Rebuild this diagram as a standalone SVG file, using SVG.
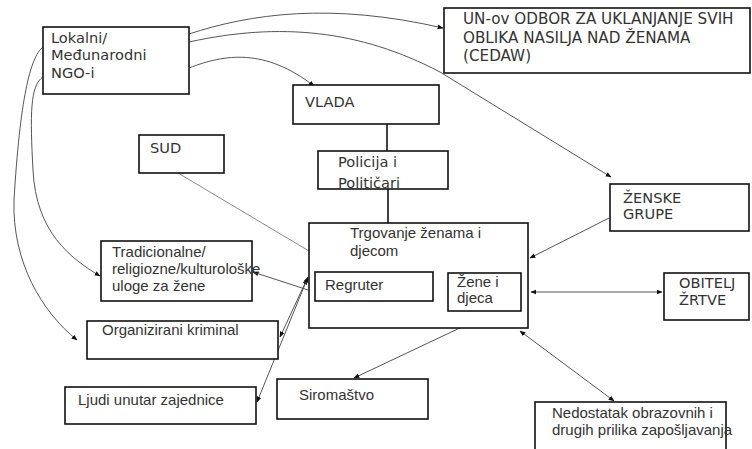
<svg xmlns="http://www.w3.org/2000/svg" width="752" height="449" viewBox="0 0 752 449">
<style>
.box{fill:#fff;stroke:#111;stroke-width:1.6}
.v{font-family:"DejaVu Sans",Verdana,sans-serif;font-size:14.6px;fill:#333}
.u{font-size:15.2px}
.a{font-family:"Liberation Sans",Arial,sans-serif;font-size:15px;fill:#333}
.c{fill:none;stroke:#555;stroke-width:1}
.l{fill:none;stroke:#888;stroke-width:1}
.k{fill:none;stroke:#111;stroke-width:1.6}
</style>
<defs>
<marker id="ah" viewBox="0 0 10 10" refX="9" refY="5" markerWidth="6" markerHeight="6" markerUnits="userSpaceOnUse" orient="auto-start-reverse">
<path d="M0,1 L10,5 L0,9 Z" fill="#111"/>
</marker>
</defs>
<rect width="752" height="449" fill="#fff"/>
<g id="connectors">
<path class="c" d="M189,34 C250,14 330,2 443,28" marker-end="url(#ah)"/>
<path class="c" d="M189,42 C280,22 360,30 440,72 L611,177" marker-end="url(#ah)"/>
<path class="c" d="M189,68 C225,54 265,48 314,86" marker-end="url(#ah)"/>
<path class="c" d="M43,77 C30,85 30,115 33,170 C36,232 70,258 100,276" marker-end="url(#ah)"/>
<path class="c" d="M43,47 C30,57 20,100 14,200 C12,262 42,312 77,340" marker-end="url(#ah)"/>
<line class="k" x1="387" y1="124" x2="387" y2="151"/>
<line class="k" x1="388" y1="189" x2="388" y2="223"/>
<line class="l" x1="178" y1="173" x2="309" y2="251"/>
<line class="c" x1="308" y1="290" x2="253" y2="272" marker-end="url(#ah)"/>
<line class="c" x1="280" y1="337" x2="307" y2="279" marker-start="url(#ah)" marker-end="url(#ah)"/>
<line class="c" x1="257" y1="402" x2="308" y2="277" marker-start="url(#ah)" marker-end="url(#ah)"/>
<line class="c" x1="609" y1="218" x2="530" y2="258" marker-end="url(#ah)"/>
<line class="c" x1="531" y1="292" x2="662" y2="292" marker-start="url(#ah)" marker-end="url(#ah)"/>
<line class="c" x1="483" y1="317" x2="354" y2="378" marker-end="url(#ah)"/>
<line class="c" x1="520" y1="331" x2="614" y2="401" marker-start="url(#ah)" marker-end="url(#ah)"/>
</g>
<g id="ngo"><rect class="box" x="43" y="27" width="146" height="67"/>
<text class="v" x="51" y="43">Lokalni/</text><text class="v" x="51" y="60">Međunarodni</text><text class="v" x="51" y="78">NGO-i</text></g>
<g id="cedaw"><rect class="box" x="444" y="8" width="306" height="65"/>
<text class="v u" x="463" y="24">UN-ov ODBOR ZA UKLANJANJE SVIH</text><text class="v u" x="463" y="43">OBLIKA NASILJA NAD ŽENAMA</text><text class="v u" x="463" y="61">(CEDAW)</text></g>
<g id="vlada"><rect class="box" x="293" y="85" width="146" height="39"/>
<text class="v" x="305" y="107">VLADA</text></g>
<g id="sud"><rect class="box" x="139" y="135" width="85" height="38"/>
<text class="v" x="150" y="153">SUD</text></g>
<g id="policija"><rect class="box" x="318" y="151" width="130" height="38"/>
<text class="v" x="338" y="167">Policija i</text><text class="v" x="338" y="188">Političari</text></g>
<g id="trgovanje"><rect class="box" x="309" y="223" width="219" height="105"/>
<text class="a" x="350" y="238">Trgovanje ženama i</text><text class="a" x="350" y="256">djecom</text></g>
<g id="regruter"><rect class="box" x="315" y="272" width="118" height="29"/>
<text class="a" x="325" y="290">Regruter</text></g>
<g id="zene"><rect class="box" x="448" y="273" width="73" height="38"/>
<text class="a" x="457" y="287">Žene i</text><text class="a" x="457" y="303">djeca</text></g>
<g id="zenske"><rect class="box" x="610" y="184" width="139" height="47"/>
<text class="v" x="623" y="203">ŽENSKE</text><text class="v" x="623" y="219">GRUPE</text></g>
<g id="obitelj"><rect class="box" x="664" y="273" width="85" height="47"/>
<text class="v" x="679" y="288">OBITELJ</text><text class="v" x="679" y="305">ŽRTVE</text></g>
<g id="tradicionalne"><rect class="box" x="101" y="241" width="151" height="60"/>
<text class="a" x="112" y="257">Tradicionalne/</text><text class="a" x="112" y="274">religiozne/kulturološke</text><text class="a" x="112" y="291">uloge za žene</text></g>
<g id="kriminal"><rect class="box" x="87" y="321" width="191" height="38"/>
<text class="a" x="102" y="335">Organizirani kriminal</text></g>
<g id="ljudi"><rect class="box" x="65" y="387" width="191" height="37"/>
<text class="a" x="78" y="405">Ljudi unutar zajednice</text></g>
<g id="siromastvo"><rect class="box" x="277" y="379" width="151" height="40"/>
<text class="a" x="299" y="400">Siromaštvo</text></g>
<g id="nedostatak"><rect class="box" x="535" y="402" width="191" height="60"/>
<text class="a" x="552" y="418">Nedostatak obrazovnih i</text><text class="a" x="552" y="435">drugih prilika zapošljavanja</text></g>
</svg>
